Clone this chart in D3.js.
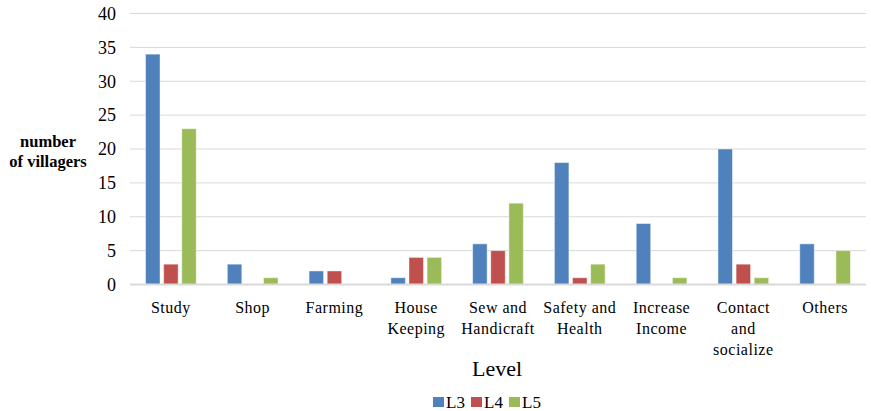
<!DOCTYPE html>
<html>
<head>
<meta charset="utf-8">
<script src="https://cdn.jsdelivr.net/npm/d3@7"></script>
</head>
<body style="margin:0">
<div id="chart"></div>
<script>
var categories = [
  ["Study"], ["Shop"], ["Farming"], ["House", "Keeping"], ["Sew and", "Handicraft"],
  ["Safety and", "Health"], ["Increase", "Income"], ["Contact", "and", "socialize"], ["Others"]
];
var seriesNames = ["L3", "L4", "L5"];
var L3 = [34, 3, 2, 1, 6, 18, 9, 20, 6];
var L4 = [3, 0, 2, 4, 5, 1, 0, 3, 0];
var L5 = [23, 1, 0, 4, 12, 3, 1, 1, 5];
var yTicks = [0, 5, 10, 15, 20, 25, 30, 35, 40];
var colors = ["#4f81bd", "#c0504d", "#9bbb59"];

var FONT = "Liberation Serif";
var width = 871, height = 411;
var margin = {top: 13.5, right: 5, bottom: 126.5, left: 130};
var w = width - margin.left - margin.right,
    h = height - margin.top - margin.bottom;

var series = [L3, L4, L5];
var keys = categories.map(function (c) { return c.join(" "); });

var svg = d3.select("#chart").append("svg")
    .attr("width", width)
    .attr("height", height);

var g = svg.append("g")
    .attr("transform", "translate(" + margin.left + "," + margin.top + ")");

var x = d3.scaleBand().domain(keys).range([0, w]).paddingInner(0).paddingOuter(0);
var x1 = d3.scaleBand().domain(seriesNames).range([x.bandwidth() * 0.19, x.bandwidth() * 0.81]).paddingInner(0.2);
var y = d3.scaleLinear().domain([0, 40]).range([h, 0]);

// gridlines
g.selectAll(".grid").data(yTicks.slice(1)).enter().append("line")
    .attr("x1", 0).attr("x2", w)
    .attr("y1", function (d) { return y(d); })
    .attr("y2", function (d) { return y(d); })
    .attr("stroke", "#d9d9d9")
    .attr("stroke-width", 1);

// y tick labels
g.selectAll(".ytick").data(yTicks).enter().append("text")
    .attr("font-family", FONT)
    .attr("font-size", 18)
    .attr("x", -14)
    .attr("y", function (d) { return y(d); })
    .attr("dy", "0.35em")
    .attr("text-anchor", "end")
    .text(function (d) { return d; });

// bars
var groups = g.selectAll(".grp").data(keys).enter().append("g")
    .attr("transform", function (d) { return "translate(" + x(d) + ",0)"; });

groups.selectAll("rect")
    .data(function (d, i) {
      return series.map(function (s, j) { return {name: seriesNames[j], value: s[i], color: colors[j]}; });
    })
    .enter().append("rect")
    .attr("x", function (d) { return x1(d.name); })
    .attr("width", x1.bandwidth())
    .attr("y", function (d) { return y(d.value); })
    .attr("height", function (d) { return h - y(d.value); })
    .attr("fill", function (d) { return d.color; })
    .attr("stroke", function (d) { return d.value > 0 ? "rgba(255,255,255,0.45)" : "none"; })
    .attr("stroke-width", 1);

// baseline
g.append("line")
    .attr("x1", 0).attr("x2", w)
    .attr("y1", h).attr("y2", h)
    .attr("stroke", "#d9d9d9")
    .attr("stroke-width", 2);

// category labels
var labels = g.selectAll(".xlab").data(categories).enter().append("text")
    .attr("font-family", FONT)
    .attr("font-size", 16)
    .attr("letter-spacing", "0.5px")
    .attr("text-anchor", "middle")
    .attr("transform", function (d, i) { return "translate(" + (x(keys[i]) + x.bandwidth() / 2) + "," + (h + 28) + ")"; });

labels.selectAll("tspan").data(function (d) { return d; }).enter().append("tspan")
    .attr("x", 0)
    .attr("y", function (d, i) { return i * 21; })
    .text(function (d) { return d; });

// axis titles
svg.append("text")
    .attr("font-family", FONT)
    .attr("font-size", 22)
    .attr("x", 497).attr("y", 376)
    .attr("text-anchor", "middle")
    .text("Level");

var ytitle = svg.append("text")
    .attr("font-family", FONT)
    .attr("font-size", 16.5)
    .attr("font-weight", "bold")
    .attr("text-anchor", "middle");
ytitle.append("tspan").attr("x", 48).attr("y", 147).text("number");
ytitle.append("tspan").attr("x", 48).attr("y", 167).text("of villagers");

// legend
var legend = svg.append("g").attr("transform", "translate(433,397)");
var li = legend.selectAll(".li").data(seriesNames).enter().append("g")
    .attr("transform", function (d, i) { return "translate(" + (i * 38) + ",0)"; });
li.append("rect")
    .attr("width", 11).attr("height", 10)
    .attr("fill", function (d, i) { return colors[i]; });
li.append("text")
    .attr("font-family", FONT)
    .attr("font-size", 17)
    .attr("x", 13).attr("y", 10.5)
    .text(function (d) { return d; });
</script>
</body>
</html>
